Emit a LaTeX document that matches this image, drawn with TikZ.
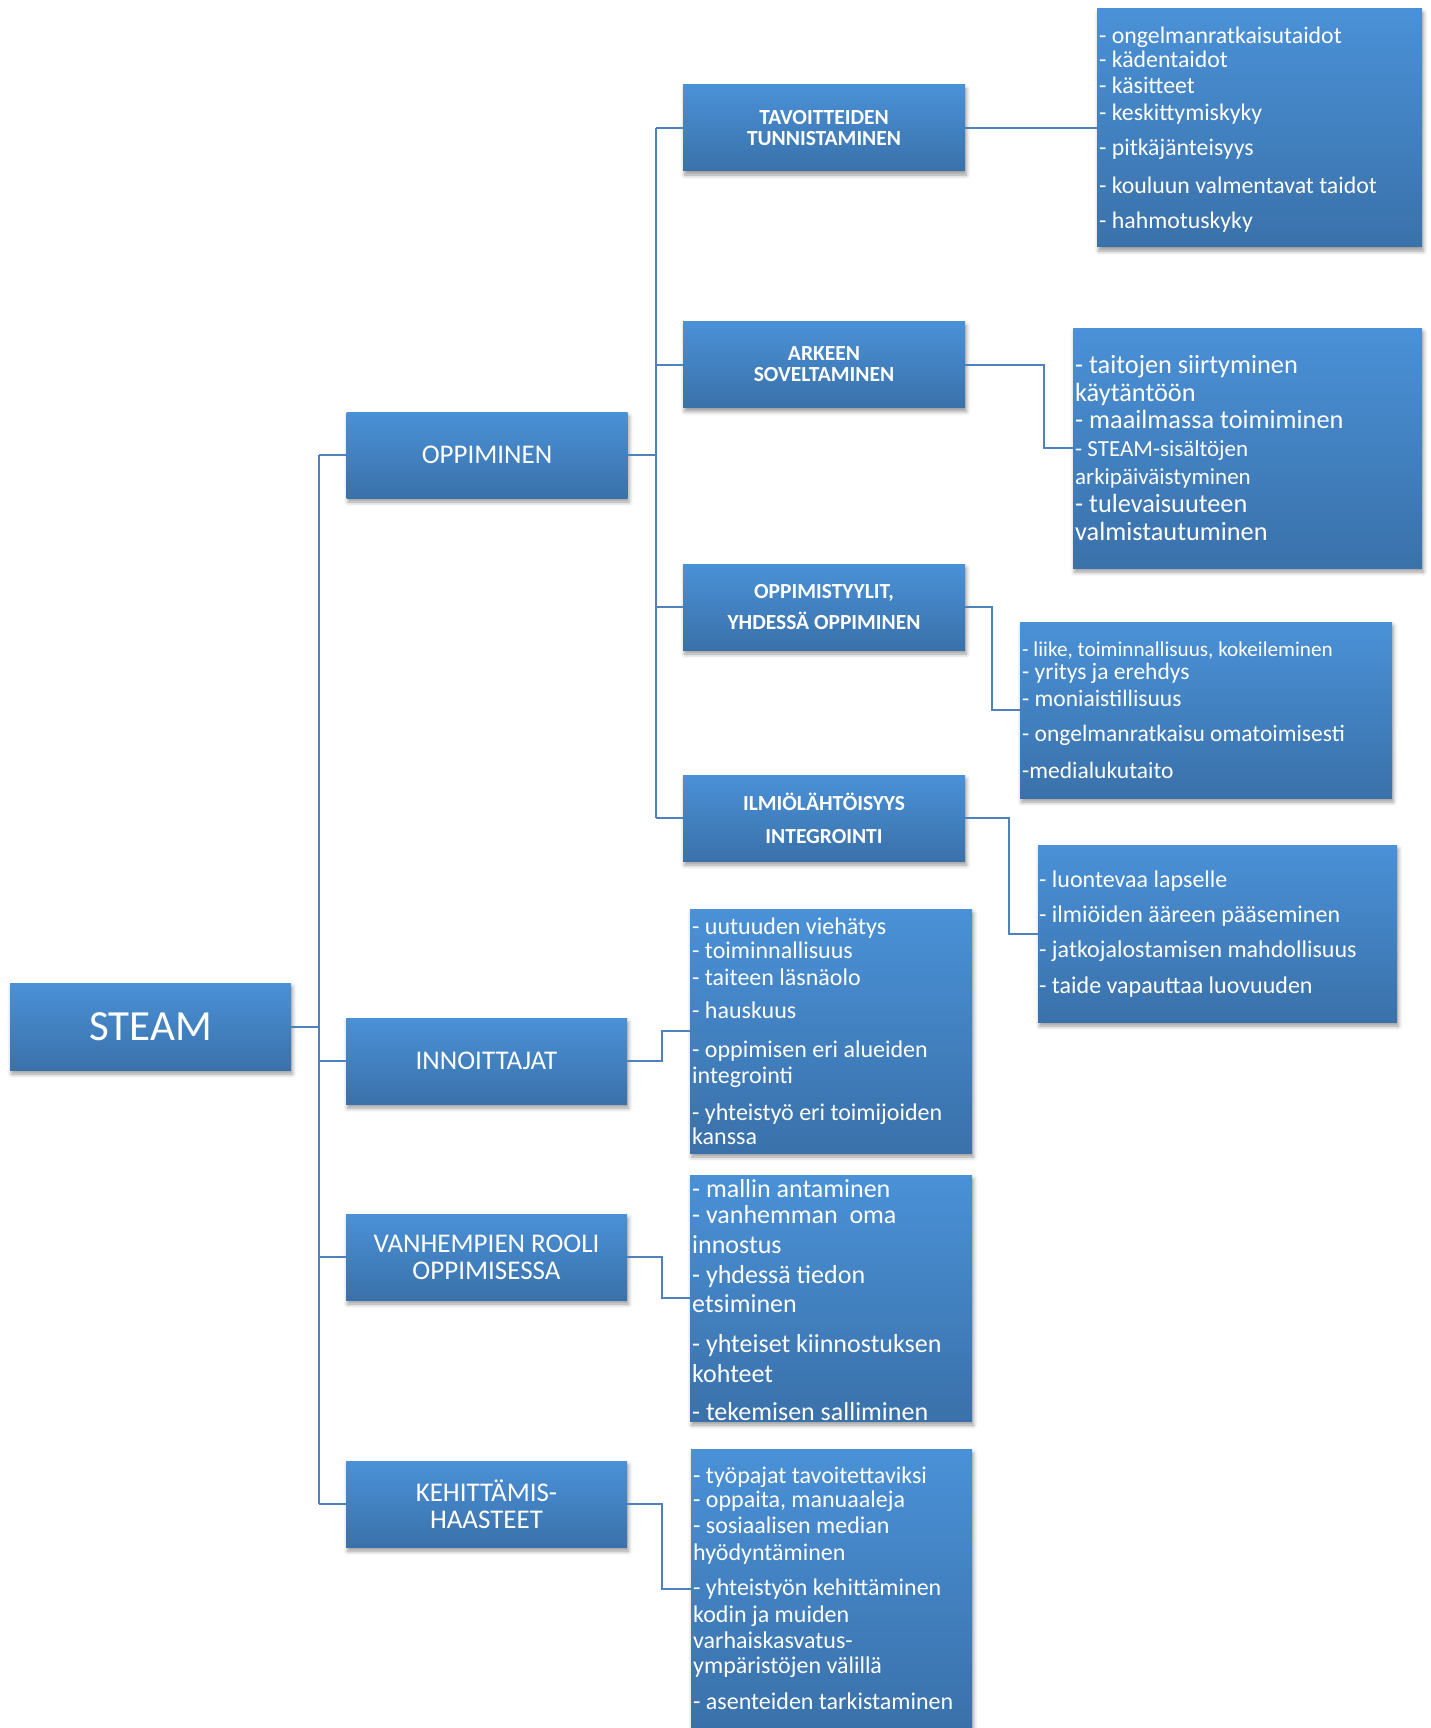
\documentclass[tikz,border=0pt]{standalone}
\usepackage{fontspec}
\setmainfont{Carlito}
\usetikzlibrary{shadows.blur}
\definecolor{boxtop}{RGB}{74,145,215}
\definecolor{boxbot}{RGB}{58,113,170}
\definecolor{linecol}{RGB}{79,129,189}
\setlength{\lineskiplimit}{-20pt}
\tikzset{
  box/.style={rectangle, inner sep=0pt, top color=boxtop, bottom color=boxbot, text=white,
    blur shadow={shadow xshift=1.5pt, shadow yshift=-4pt, shadow blur radius=4pt, shadow opacity=40}},
  mainbox/.style={box, minimum width=281pt, minimum height=87pt, font=\fontsize{43}{46}\selectfont},
  lvlone/.style={box, minimum width=281pt, minimum height=86pt, align=center, font=\fontsize{27}{27}\selectfont},
  lvltwo/.style={box, minimum width=282pt, minimum height=86pt, align=center, font=\bfseries\fontsize{21.5}{21}\selectfont},
  leafbox/.style={box},
  leaftxt/.style={anchor=north west, inner sep=0pt, align=left, text=white},
  conn/.style={draw=linecol, line width=2pt},
}
\begin{document}
\begin{tikzpicture}[x=1pt, y=-1pt]
\useasboundingbox (0,0) rectangle (1431,1728);
% main and level-1
\node[mainbox] (steam) at (150.5,1026.5) {STEAM};
\node[lvlone] (opp) at (487,455) {OPPIMINEN};
\node[lvlone] (inn) at (486.5,1061) {INNOITTAJAT};
\node[lvlone] (van) at (486.5,1257) {VANHEMPIEN ROOLI\\OPPIMISESSA};
\node[lvlone] (keh) at (486.5,1504) {KEHITTÄMIS-\\HAASTEET};
% level-2
\node[lvltwo] (tav) at (824,128) {TAVOITTEIDEN\\TUNNISTAMINEN};
\node[lvltwo] (ark) at (824,364.5) {ARKEEN\\SOVELTAMINEN};
\node[lvltwo, font=\bfseries\fontsize{21.5}{31}\selectfont] (ost) at (824,607) {OPPIMISTYYLIT,\\YHDESSÄ OPPIMINEN};
\node[lvltwo, font=\bfseries\fontsize{21.5}{33}\selectfont] (ilm) at (824,818) {ILMIÖLÄHTÖISYYS\\INTEGROINTI};
% leaf boxes
\node[leafbox, minimum width=325pt, minimum height=238pt] (l1) at (1259.5,128) {};
\node[leafbox, minimum width=349pt, minimum height=240pt] (l2) at (1247.5,448) {};
\node[leafbox, minimum width=372pt, minimum height=176pt] (l3) at (1206,710) {};
\node[leafbox, minimum width=359pt, minimum height=177pt] (l4) at (1217.5,933.5) {};
\node[leafbox, minimum width=282pt, minimum height=244pt] (l5) at (831,1031) {};
\node[leafbox, minimum width=282pt, minimum height=246pt] (l6) at (831,1298) {};
\node[leafbox, minimum width=281pt, minimum height=279pt] (l7) at (831.5,1588.5) {};
% leaf texts
\node[leaftxt, font=\fontsize{23.8}{24}\selectfont] (t1) at (1099,19)
 {\rule{0pt}{24pt}- ongelmanratkaisutaidot\\[0pt]- kädentaidot\\[2pt]- käsitteet\\[3pt]- keskittymiskyky\\[11pt]- pitkäjänteisyys\\[14pt]- kouluun valmentavat taidot\\[11pt]- hahmotuskyky};
\node[leaftxt, font=\fontsize{26.3}{27.8}\selectfont] (t2) at (1075,347)
 {\rule{0pt}{26pt}- taitojen siirtyminen\\käytäntöön\\- maailmassa toimiminen\\{\fontsize{23}{27.8}\selectfont - STEAM-sisältöjen}\\{\fontsize{23}{27.8}\selectfont arkipäiväistyminen}\\- tulevaisuuteen\\valmistautuminen};
\node[leaftxt, font=\fontsize{23.5}{24}\selectfont] (t3) at (1022,632)
 {\rule{0pt}{24pt}{\fontsize{21.2}{24}\selectfont - liike, toiminnallisuus, kokeileminen}\\[-1pt]- yritys ja erehdys\\[3pt]- moniaistillisuus\\[11pt]- ongelmanratkaisu omatoimisesti\\[13pt]-medialukutaito};
\node[leaftxt, font=\fontsize{24}{35.3}\selectfont] (t4) at (1039,863)
 {\rule{0pt}{24pt}- luontevaa lapselle\\- ilmiöiden ääreen pääseminen\\- jatkojalostamisen mahdollisuus\\- taide vapauttaa luovuuden};
\node[leaftxt, font=\fontsize{24}{24}\selectfont] (t5) at (692,910)
 {\rule{0pt}{24pt}- uutuuden viehätys\\[0pt]- toiminnallisuus\\[3pt]- taiteen läsnäolo\\[9pt]- hauskuus\\[15pt]- oppimisen eri alueiden\\[2pt]integrointi\\[13pt]- yhteistyö eri toimijoiden\\[0pt]kanssa};
\node[leaftxt, font=\fontsize{26}{27}\selectfont] (t6) at (692,1171)
 {\rule{0pt}{26pt}- mallin antaminen\\[-1pt]- vanhemman\ \ oma\\[3pt]innostus\\[3pt]- yhdessä tiedon\\[2pt]etsiminen\\[13pt]- yhteiset kiinnostuksen\\[3pt]kohteet\\[11pt]- tekemisen salliminen};
\node[leaftxt, font=\fontsize{24}{25}\selectfont] (t7) at (693,1459)
 {\rule{0pt}{24pt}- työpajat tavoitettaviksi\\[-1pt]- oppaita, manuaaleja\\[1pt]- sosiaalisen median\\[2pt]hyödyntäminen\\[10pt]- yhteistyön kehittäminen\\[2pt]kodin ja muiden\\[1pt]varhaiskasvatus-\\[0pt]ympäristöjen välillä\\[11pt]- asenteiden tarkistaminen};
% junction coordinates
\coordinate (trunk) at (319,0);
\coordinate (j2) at (656,0);
\coordinate (e2) at (1044,0);
\coordinate (e3) at (992,0);
\coordinate (e4) at (1009,0);
\coordinate (e5) at (662,0);
% connectors
\draw[conn] (steam.east) -- (steam.east -| trunk);
\draw[conn] (opp.west -| trunk) -- (keh.west -| trunk);
\foreach \n in {opp,inn,van,keh} \draw[conn] (\n.west -| trunk) -- (\n.west);
\draw[conn] (opp.east) -- (opp.east -| j2);
\draw[conn] (tav.west -| j2) -- (ilm.west -| j2);
\foreach \n in {tav,ark,ost,ilm} \draw[conn] (\n.west -| j2) -- (\n.west);
\draw[conn] (tav.east) -- (l1.west);
\draw[conn] (ark.east) -- (ark.east -| e2) |- (l2.west);
\draw[conn] (ost.east) -- (ost.east -| e3) |- (l3.west);
\draw[conn] (ilm.east) -- (ilm.east -| e4) |- (l4.west);
\draw[conn] (inn.east) -- (inn.east -| e5) |- (l5.west);
\draw[conn] (van.east) -- (van.east -| e5) |- (l6.west);
\draw[conn] (keh.east) -- (keh.east -| e5) |- (l7.west);
\end{tikzpicture}
\end{document}
